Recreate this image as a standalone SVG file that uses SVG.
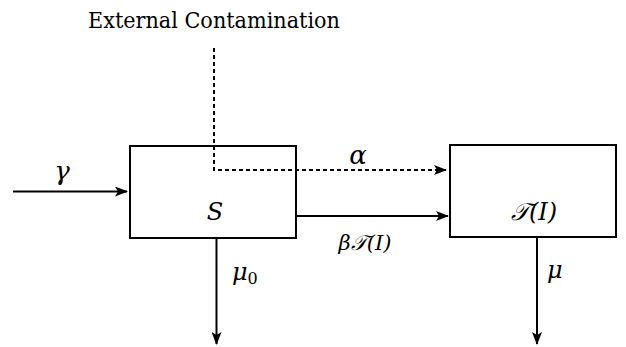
<svg xmlns="http://www.w3.org/2000/svg" width="626" height="347" viewBox="0 0 626 347">
<style>
.box{fill:none;stroke:#000;stroke-width:2}
.ln{fill:none;stroke:#000;stroke-width:2}
.dash{fill:none;stroke:#000;stroke-width:2;stroke-dasharray:4 3}
.t{fill:#000}
.m{font-style:italic;fill:#000}
</style>
<defs>
<marker id="ah" markerWidth="14" markerHeight="10" refX="12" refY="5" orient="auto" markerUnits="userSpaceOnUse">
<path d="M0,0 L13,5 L0,10 L3,5 Z" fill="#000"/>
</marker>
</defs>
<g id="S">
<rect class="box" x="130" y="146" width="166" height="92"/>
<text class="m" font-family="DejaVu Serif, serif" x="215" y="220" font-size="24" text-anchor="middle">S</text>
</g>
<g id="T">
<rect class="box" x="450" y="145" width="166" height="92"/>
<text class="m" font-family="DejaVu Serif, serif" x="534" y="220" font-size="24" text-anchor="middle">𝒯(I)</text>
</g>
<g id="connectors">
<line class="ln" x1="13" y1="191.5" x2="127" y2="191.5" marker-end="url(#ah)"/>
<polyline class="dash" points="214,48 214,170 446,170" marker-end="url(#ah)"/>
<line class="ln" x1="297" y1="216" x2="448" y2="216" marker-end="url(#ah)"/>
<line class="ln" x1="216.5" y1="239" x2="216.5" y2="344" marker-end="url(#ah)"/>
<line class="ln" x1="537" y1="237" x2="537" y2="344" marker-end="url(#ah)"/>
</g>
<g id="labels">
<text class="t" font-family="DejaVu Serif, serif" x="88" y="28" font-size="22" textLength="252" lengthAdjust="spacingAndGlyphs">External Contamination</text>
<text class="m" font-family="DejaVu Serif, serif" x="62" y="180" font-size="26" text-anchor="middle">γ</text>
<text class="m" font-family="DejaVu Serif, serif" x="358" y="164" font-size="26" text-anchor="middle">α</text>
<text class="m" font-family="DejaVu Serif, serif" x="365" y="250" font-size="21" text-anchor="middle">β𝒯(I)</text>
<text class="m" font-family="DejaVu Serif, serif" x="232" y="280" font-size="24">μ<tspan font-style="normal" font-size="16" dy="4">0</tspan></text>
<text class="m" font-family="DejaVu Serif, serif" x="547" y="278" font-size="24">μ</text>
</g>
</svg>
